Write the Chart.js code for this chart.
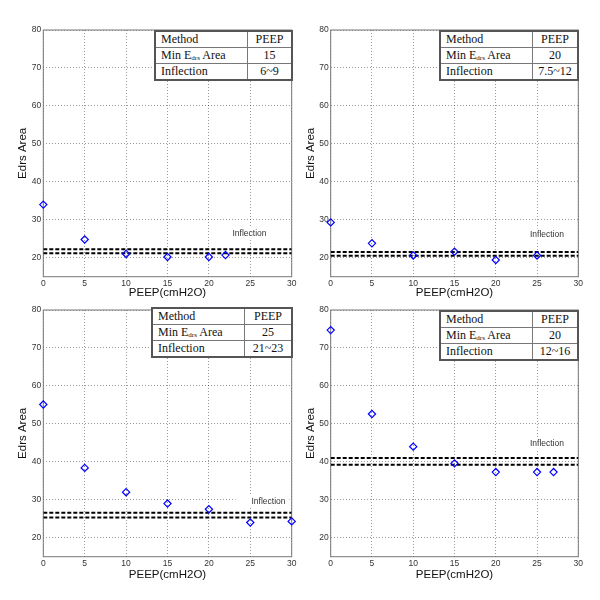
<!DOCTYPE html>
<html>
<head>
<meta charset="utf-8">
<script src="https://cdn.jsdelivr.net/npm/chart.js@4.4.0/dist/chart.umd.min.js"></script>
<style>
  body { margin: 0; background: #fff; width: 600px; height: 600px; position: relative; }
  .panel { position: absolute; width: 300px; height: 300px; }
  .panel canvas { position: absolute; left: 0; top: 0; }
  table.peep {
    position: absolute; border-collapse: collapse; background: #fff;
    font-family: "Liberation Serif", "Times New Roman", serif; font-size: 12px; color: #111;
    border: 2px solid #555;
  }
  table.peep td { border: 1px solid #777; padding: 0 5px; height: 15px; line-height: 15px; white-space: nowrap; }
  table.peep td.v { text-align: center; }
  table.peep sub { font-size: 7px; vertical-align: -1px; line-height: 0; }
</style>
</head>
<body>
<div class="panel" id="p1"><canvas id="c1" width="300" height="300"></canvas></div>
<div class="panel" id="p2"><canvas id="c2" width="300" height="300"></canvas></div>
<div class="panel" id="p3"><canvas id="c3" width="300" height="300"></canvas></div>
<div class="panel" id="p4"><canvas id="c4" width="300" height="300"></canvas></div>

<script>
// data
const xTicks = [0, 5, 10, 15, 20, 25, 30];
const yTicks = [20, 30, 40, 50, 60, 70, 80];

const peepX1 = [0, 5, 10, 15, 20, 22];
const area1 = [34.0, 24.8, 21.0, 20.2, 20.2, 20.7];
const infl1 = [22.2, 21.2];

const peepX2 = [0, 5, 10, 15, 20, 25];
const area2 = [29.3, 23.8, 20.6, 21.6, 19.4, 20.6];
const infl2 = [21.5, 20.5];

const peepX3 = [0, 5, 10, 15, 20, 25, 30];
const area3 = [55.1, 38.4, 32.0, 29.0, 27.5, 24.0, 24.3];
const infl3 = [26.6, 25.3];

const peepX4 = [0, 5, 10, 15, 20, 25, 27];
const area4 = [74.7, 52.6, 44.0, 39.6, 37.3, 37.3, 37.3];
const infl4 = [41.0, 39.2];

const inflLabel = "Inflection";
const inflLabelX = [24.9, 26.2, 27.2, 26.2];
const inflLabelY = [26.4, 26.1, 29.5, 44.9];

const tableHead = ["Method", "PEEP"];
const tableRows = ["Min E<sub>drs</sub> Area", "Inflection"];
const minAreaPeep = ["15", "20", "25", "20"];
const inflPeep = ["6~9", "7.5~12", "21~23", "12~16"];

const xTitle = "PEEP(cmH2O)";
const yTitle = "Edrs Area";

// layout of each panel (pixels)
const panels = [
  { left: 0, top: 0, L: 43.3, R: 8.3, T: 30, B: 23.3, yPad: 16.4, xPad: 0, tbl: [154, 30, 139, 92] },
  { left: 300, top: 0, L: 30.7, R: 21.7, T: 30, B: 23.3, yPad: 4.1, xPad: 0, tbl: [439, 30, 140, 92] },
  { left: 0, top: 300, L: 43.3, R: 8.3, T: 10, B: 43.3, yPad: 16.4, xPad: 18, tbl: [151, 307, 142, 92] },
  { left: 300, top: 300, L: 30.7, R: 21.7, T: 10, B: 43.3, yPad: 4.1, xPad: 18, tbl: [439, 310, 140, 92] },
];

const series = [
  [peepX1, area1, infl1],
  [peepX2, area2, infl2],
  [peepX3, area3, infl3],
  [peepX4, area4, infl4],
];

const framePlugin = {
  id: "frame",
  beforeDatasetsDraw(chart, args, opts) {
    const { ctx, chartArea: a, scales } = chart;
    ctx.save();
    // label with white box behind it
    ctx.font = "8.5px 'Liberation Sans', Arial, sans-serif";
    const px = scales.x.getPixelForValue(opts.lx);
    const py = scales.y.getPixelForValue(opts.ly);
    const w = ctx.measureText(inflLabel).width;
    ctx.fillStyle = "#fff";
    ctx.fillRect(px - w / 2 - 16, py - 6, w + 20, 12);
    ctx.fillStyle = "#333";
    ctx.textAlign = "center";
    ctx.textBaseline = "middle";
    ctx.fillText(inflLabel, px, py);
    // axes box
    ctx.strokeStyle = "#777";
    ctx.lineWidth = 1;
    ctx.strokeRect(a.left, a.top, a.right - a.left, a.bottom - a.top);
    ctx.restore();
  },
};

const makeChart = function (i) {
  const p = panels[i];
  const [xs, ys, infl] = series[i];
  const wrap = document.getElementById("p" + (i + 1));
  wrap.style.left = p.left + "px";
  wrap.style.top = p.top + "px";

  const pts = xs.map((x, k) => ({ x: x, y: ys[k] }));
  const dashSets = infl.map((v) => ({
    type: "line",
    data: [{ x: 0, y: v }, { x: 30, y: v }],
    borderColor: "#000",
    borderWidth: 2,
    borderDash: [4, 2],
    pointRadius: 0,
    order: 2,
  }));

  new Chart(document.getElementById("c" + (i + 1)), {
    type: "scatter",
    data: {
      datasets: [
        {
          data: pts,
          pointStyle: "rectRot",
          pointRadius: 3.6,
          borderColor: "#0000ff",
          borderWidth: 1.2,
          backgroundColor: "rgba(0,0,0,0)",
          clip: false,
          order: 1,
        },
        ...dashSets,
      ],
    },
    options: {
      responsive: false,
      animation: false,
      layout: { padding: { left: 0, right: p.R, top: p.T, bottom: 0 } },
      plugins: {
        legend: { display: false },
        tooltip: { enabled: false },
        frame: { lx: inflLabelX[i], ly: inflLabelY[i] },
      },
      scales: {
        x: {
          type: "linear",
          min: 0,
          max: 30,
          afterBuildTicks: (s) => { s.ticks = xTicks.map((v) => ({ value: v })); },
          afterFit: (s) => { s.height = p.B; },
          grid: { color: "rgba(0,0,0,0.4)", drawTicks: false },
          border: { display: false, dash: [1, 2] },
          ticks: { padding: 2, color: "#333", font: { size: 8.5, family: "'Liberation Sans', Arial" }, maxRotation: 0 },
          title: { display: true, text: xTitle, color: "#111", padding: { top: 0, bottom: p.xPad }, font: { size: 11.5, family: "'Liberation Sans', Arial" } },
        },
        y: {
          type: "linear",
          min: 15,
          max: 80,
          afterBuildTicks: (s) => { s.ticks = yTicks.map((v) => ({ value: v })); },
          afterFit: (s) => { s.width = p.L; },
          grid: { color: "rgba(0,0,0,0.4)", drawTicks: false },
          border: { display: false, dash: [1, 2] },
          ticks: { padding: 2, color: "#333", font: { size: 8.5, family: "'Liberation Sans', Arial" } },
          title: { display: true, text: yTitle, color: "#111", padding: { top: p.yPad, bottom: 0 }, font: { size: 11.5, family: "'Liberation Sans', Arial" } },
        },
      },
    },
    plugins: [framePlugin],
  });

  // summary table
  const [tl, tt, tw, c1] = p.tbl;
  const markup = `
    <table class="peep" style="left:${tl}px;top:${tt}px;width:${tw}px">
      <tr><td style="width:${c1 - 11}px">${tableHead[0]}</td><td class="v">${tableHead[1]}</td></tr>
      <tr><td>${tableRows[0]}</td><td class="v">${minAreaPeep[i]}</td></tr>
      <tr><td>${tableRows[1]}</td><td class="v">${inflPeep[i]}</td></tr>
    </table>`;
  document.body.insertAdjacentHTML("beforeend", markup);
};

for (let i = 0; i < 4; i++) makeChart(i);
</script>
</body>
</html>
